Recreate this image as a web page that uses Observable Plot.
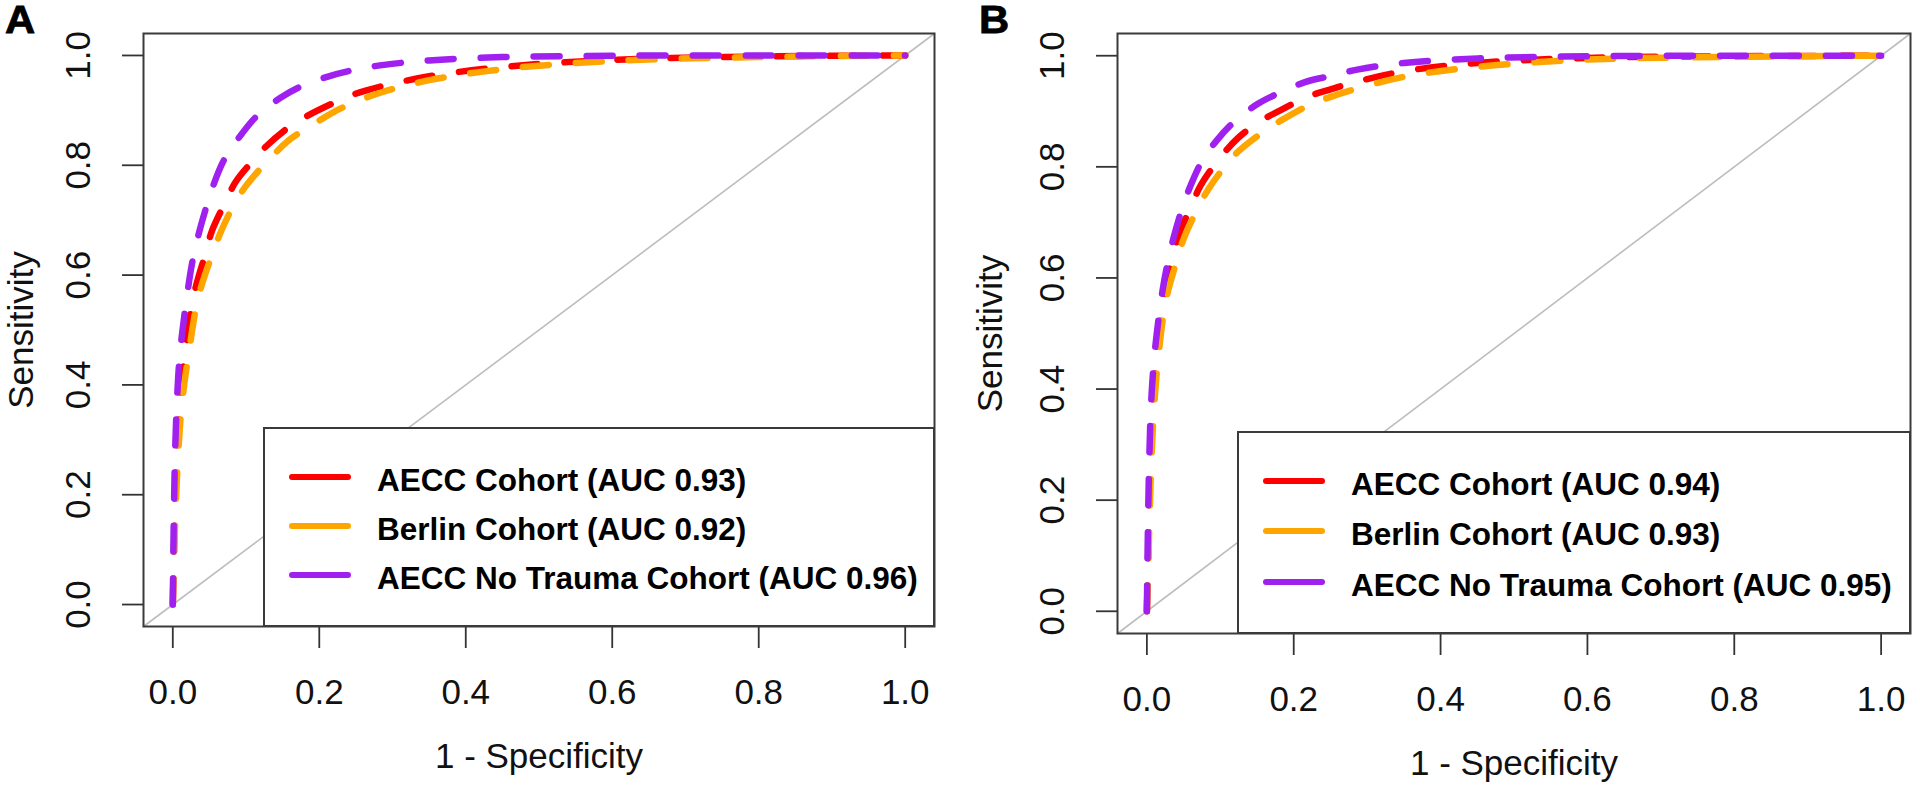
<!DOCTYPE html>
<html>
<head>
<meta charset="utf-8">
<script src="https://cdn.jsdelivr.net/npm/d3@7"></script>
<script src="https://cdn.jsdelivr.net/npm/@observablehq/plot@0.6"></script>
<style>
  html, body { margin: 0; padding: 0; background: #fff; }
  #wrap { position: relative; width: 1920px; height: 789px; overflow: hidden; font-family: "Liberation Sans", Arial, sans-serif; }
  .panel { position: absolute; top: 0; }
  .tag { position: absolute; top: 1px; font-family: "Liberation Sans", Arial, sans-serif; font-size: 38px; line-height: 38px; font-weight: 700; color: #000; -webkit-text-stroke: 0.8px #000; transform: scaleX(1.1); transform-origin: left top; z-index: 3; }
  .legend { position: absolute; background: #fff; border: 2px solid #3a3a3a; box-sizing: border-box; z-index: 2; }
  .swatch { position: absolute; left: 24px; width: 62px; height: 6px; border-radius: 3px; }
  .lab { position: absolute; left: 112px; font-family: "Liberation Sans", Arial, sans-serif; font-size: 31.5px; line-height: 32px; font-weight: 700; white-space: nowrap; color: #000; }
</style>
</head>
<body>
<div id="wrap"></div>
<script>
// ---------- data ----------
const xTicks = [0, 0.2, 0.4, 0.6, 0.8, 1.0];
const yTicks = [0, 0.2, 0.4, 0.6, 0.8, 1.0];
const plotDomain = [-0.04, 1.04];
const seriesNames = ["AECC Cohort", "Berlin Cohort", "AECC No Trauma Cohort"];
const seriesColors = ["#FF0000", "#FFA500", "#A020F0"];
const panelTags = ["A", "B"];
const aucA = [0.93, 0.92, 0.96];
const aucB = [0.94, 0.93, 0.95];

// Panel A curves (1 - specificity, sensitivity)
const fprA_aecc = [0, 0.002, 0.005, 0.010, 0.018, 0.0286, 0.0446, 0.0536, 0.0719, 0.0855, 0.1105, 0.124, 0.154, 0.181, 0.217, 0.249, 0.2855, 0.35, 0.45, 0.6, 0.8, 1];
const tprA_aecc = [0, 0.12, 0.26, 0.37, 0.47, 0.563, 0.639, 0.681, 0.733, 0.769, 0.810, 0.830, 0.865, 0.888, 0.912, 0.930, 0.944, 0.962, 0.979, 0.992, 0.998, 1];
const fprA_berlin = [0, 0.002, 0.006, 0.012, 0.022, 0.0355, 0.0559, 0.0673, 0.0855, 0.1037, 0.158, 0.1855, 0.2196, 0.249, 0.2855, 0.35, 0.45, 0.6, 0.8, 1];
const tprA_berlin = [0, 0.10, 0.24, 0.36, 0.46, 0.563, 0.645, 0.684, 0.733, 0.769, 0.845, 0.869, 0.897, 0.915, 0.933, 0.955, 0.975, 0.990, 0.997, 1];
const fprA_notrauma = [0, 0.001, 0.003, 0.006, 0.010, 0.0195, 0.0264, 0.0346, 0.0446, 0.0523, 0.07, 0.0946, 0.115, 0.147, 0.174, 0.213, 0.245, 0.283, 0.35, 0.45, 0.6, 0.8, 1];
const tprA_notrauma = [0, 0.12, 0.27, 0.38, 0.46, 0.563, 0.622, 0.671, 0.719, 0.752, 0.810, 0.858, 0.890, 0.923, 0.943, 0.962, 0.973, 0.982, 0.991, 0.997, 0.9995, 1, 1];

// Panel B curves
const fprB_aecc = [0, 0.002, 0.004, 0.008, 0.014, 0.025, 0.044, 0.0599, 0.0735, 0.1007, 0.1234, 0.1528, 0.1823, 0.2186, 0.248, 0.2866, 0.35, 0.45, 0.6, 0.8, 1];
const tprB_aecc = [0, 0.11, 0.25, 0.37, 0.47, 0.58, 0.679, 0.7275, 0.767, 0.818, 0.851, 0.881, 0.902, 0.926, 0.9385, 0.9535, 0.972, 0.987, 0.996, 0.999, 1];
const fprB_berlin = [0, 0.002, 0.005, 0.009, 0.015, 0.0259, 0.040, 0.050, 0.0712, 0.0848, 0.112, 0.1256, 0.1574, 0.1846, 0.2208, 0.2503, 0.2866, 0.35, 0.45, 0.6, 0.8, 1];
const tprB_berlin = [0, 0.09, 0.23, 0.35, 0.45, 0.559, 0.628, 0.670, 0.730, 0.762, 0.810, 0.829, 0.862, 0.885, 0.911, 0.926, 0.941, 0.962, 0.980, 0.993, 0.998, 1];
const fprB_notrauma = [0, 0.001, 0.003, 0.006, 0.011, 0.0213, 0.028, 0.0355, 0.0463, 0.0576, 0.075, 0.0961, 0.1188, 0.1506, 0.180, 0.2163, 0.248, 0.2866, 0.35, 0.45, 0.6, 0.8, 1];
const tprB_notrauma = [0, 0.11, 0.26, 0.38, 0.47, 0.577, 0.625, 0.668, 0.718, 0.760, 0.810, 0.849, 0.881, 0.913, 0.933, 0.953, 0.963, 0.975, 0.987, 0.995, 0.999, 1, 1];

// ---------- layout ----------
const panels = [
  { left: 0, ml: 143, mr: 26, mt: 33, mb: 163, yTitleDx: -122, tagLeft: 5,
    legend: { left: 263, top: 427, width: 672, height: 200, rows: [50, 99, 148] },
    auc: aucA,
    curves: [[fprA_aecc, tprA_aecc], [fprA_berlin, tprA_berlin], [fprA_notrauma, tprA_notrauma]] },
  { left: 960, ml: 157, mr: 10, mt: 33, mb: 156, yTitleDx: -127, tagLeft: 979,
    legend: { left: 1237, top: 431, width: 674, height: 203, rows: [50, 100, 151] },
    auc: aucB,
    curves: [[fprB_aecc, tprB_aecc], [fprB_berlin, tprB_berlin], [fprB_notrauma, tprB_notrauma]] }
];

const wrap = document.getElementById("wrap");
const fmt = d3.format(".1f");
const FONT = "'Liberation Sans', Arial, sans-serif";

panels.forEach((p, pi) => {
  const curveMarks = p.curves.map(([fx, ty], i) =>
    Plot.line(fx.map((v, j) => ({ fpr: v, tpr: ty[j] })), {
      x: "fpr", y: "tpr", stroke: seriesColors[i], strokeWidth: 6.5,
      strokeDasharray: "26,27", strokeLinecap: "round", curve: "catmull-rom"
    })
  );
  const chart = Plot.plot({
    width: 960, height: 789,
    marginLeft: p.ml, marginRight: p.mr, marginTop: p.mt, marginBottom: p.mb,
    x: { domain: plotDomain },
    y: { domain: plotDomain },
    style: { fontFamily: FONT, background: "transparent", overflow: "visible" },
    marks: [
      Plot.line(plotDomain.map(d => ({ d })), { x: "d", y: "d", stroke: "#bdbdbd", strokeWidth: 1.6 }),
      ...curveMarks,
      Plot.axisX({ ticks: xTicks, tickSize: 22, tickFormat: () => "", label: null, stroke: "#333", strokeWidth: 1.8 }),
      Plot.axisY({ ticks: yTicks, tickSize: 21, tickFormat: () => "", label: null, stroke: "#333", strokeWidth: 1.8 }),
      Plot.text(xTicks, { x: d => d, frameAnchor: "bottom", dy: 66, text: d => fmt(d), fontSize: 35, fill: "#111", lineAnchor: "middle" }),
      Plot.text(yTicks, { y: d => d, frameAnchor: "left", dx: -65, rotate: -90, text: d => fmt(d), fontSize: 35, fill: "#111", lineAnchor: "middle", textAnchor: "middle" }),
      Plot.text(["1 - Specificity"], { frameAnchor: "bottom", dy: 130, text: d => d, fontSize: 35, fill: "#111", lineAnchor: "middle" }),
      Plot.text(["Sensitivity"], { frameAnchor: "left", dx: p.yTitleDx, rotate: -90, text: d => d, fontSize: 35, fill: "#111", lineAnchor: "middle", textAnchor: "middle" }),
      Plot.frame({ stroke: "#3a3a3a", strokeWidth: 2 })
    ]
  });
  chart.classList.add("panel");
  chart.style.left = p.left + "px";
  wrap.appendChild(chart);

  const tag = document.createElement("div");
  tag.className = "tag";
  tag.style.left = p.tagLeft + "px";
  tag.textContent = panelTags[pi];
  wrap.appendChild(tag);

  const lg = document.createElement("div");
  lg.className = "legend";
  Object.assign(lg.style, { left: p.legend.left + "px", top: p.legend.top + "px", width: p.legend.width + "px", height: p.legend.height + "px" });
  seriesNames.forEach((name, i) => {
    const row = p.legend.rows[i] - 2;
    const sw = document.createElement("div");
    sw.className = "swatch";
    sw.style.top = (row - 3) + "px";
    sw.style.background = seriesColors[i];
    lg.appendChild(sw);
    const lab = document.createElement("div");
    lab.className = "lab";
    lab.style.top = (row - 13) + "px";
    lab.textContent = `${name} (AUC ${p.auc[i].toFixed(2)})`;
    lg.appendChild(lab);
  });
  wrap.appendChild(lg);
});
</script>
</body>
</html>
